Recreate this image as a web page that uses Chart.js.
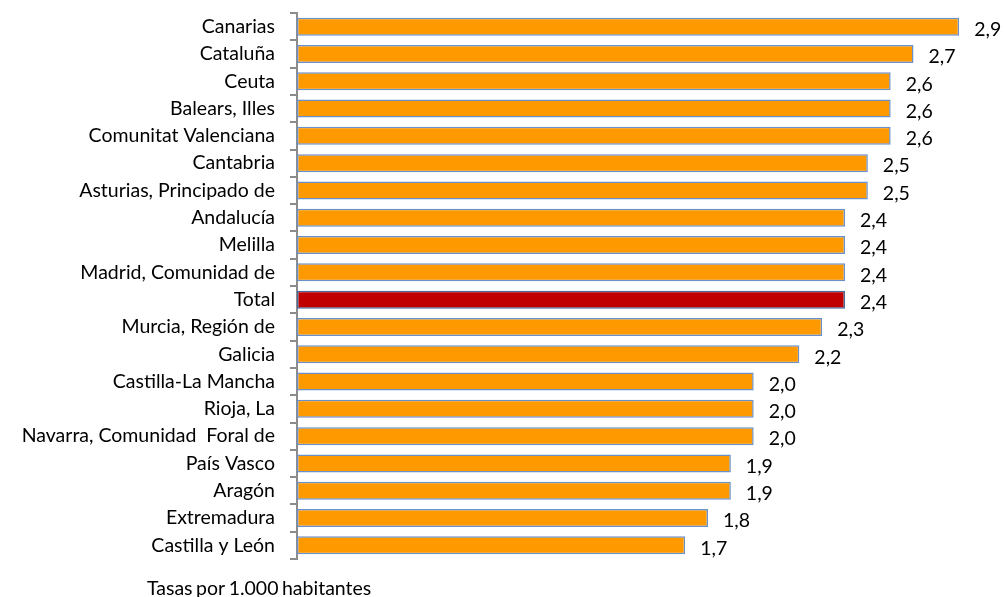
<!DOCTYPE html>
<html>
<head>
<meta charset="utf-8">
<script src="https://cdn.jsdelivr.net/npm/chart.js@4.4.1/dist/chart.umd.min.js"></script>
<style>
html,body{margin:0;padding:0;background:#fff;}
#wrap{width:1004px;height:597px;position:relative;}
</style>
</head>
<body>
<div id="wrap"><canvas id="c" width="1004" height="597"></canvas></div>
<script>
const categories = ["Canarias","Cataluña","Ceuta","Balears, Illes","Comunitat Valenciana","Cantabria","Asturias, Principado de","Andalucía","Melilla","Madrid, Comunidad de","Total","Murcia, Región de","Galicia","Castilla-La Mancha","Rioja, La","Navarra, Comunidad  Foral de","País Vasco","Aragón","Extremadura","Castilla y León"];
const values = [2.9,2.7,2.6,2.6,2.6,2.5,2.5,2.4,2.4,2.4,2.4,2.3,2.2,2.0,2.0,2.0,1.9,1.9,1.8,1.7];
const highlight = "Total";
const footnote = "Tasas por 1.000 habitantes";

const FONT = "Lato";
const orange = "#FF9900", red = "#C00000";

const labelPlugin = {
  id: "valueLabels",
  afterDatasetsDraw(chart) {
    const ctx = chart.ctx;
    const meta = chart.getDatasetMeta(0);
    ctx.save();
    ctx.font = "19.5px " + FONT;
    ctx.fillStyle = "#000";
    ctx.textAlign = "left";
    ctx.textBaseline = "middle";
    meta.data.forEach((bar, i) => {
      ctx.fillText(values[i].toFixed(1).replace(".", ","), bar.x + 15, bar.y + 3);
    });
    ctx.font = "19.5px " + FONT;
    try { ctx.wordSpacing = "-1.5px"; } catch (e) {}
    ctx.fillText(footnote, 147, 589);
    ctx.restore();
  }
};

new Chart(document.getElementById("c"), {
  type: "bar",
  data: {
    labels: categories,
    datasets: [{
      data: values,
      backgroundColor: categories.map(c => c === highlight ? red : orange),
      borderColor: categories.map(c => c === highlight ? "#4A6A9A" : "#6A90C8"),
      borderWidth: 1.5,
      borderSkipped: false,
      categoryPercentage: 1,
      barPercentage: 0.66
    }]
  },
  options: {
    indexAxis: "y",
    responsive: false,
    animation: false,
    layout: { padding: { top: 13, right: 22, bottom: 38, left: 0 } },
    plugins: { legend: { display: false }, tooltip: { enabled: false } },
    scales: {
      x: { display: false, min: 0, max: 3 },
      y: {
        afterFit(scale) { scale.width = 297; scale.paddingTop = 0; scale.paddingBottom = 0; },
        border: { display: true, color: "#8C8C8C", width: 2 },
        grid: { offset: true, drawOnChartArea: false, drawTicks: true, tickLength: 7, color: "#8C8C8C", lineWidth: 2 },
        ticks: { color: "#000", font: { family: FONT, size: 19.5 }, padding: 15, autoSkip: false }
      }
    }
  },
  plugins: [labelPlugin]
});
</script>
</body>
</html>
